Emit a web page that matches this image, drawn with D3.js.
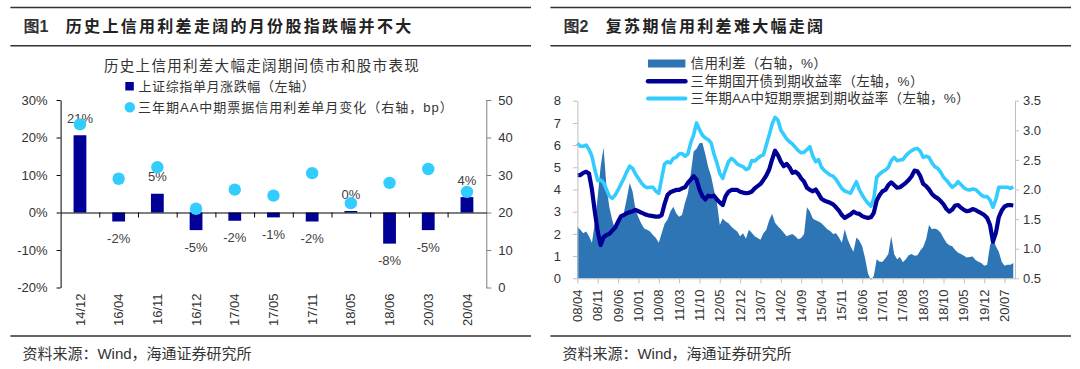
<!DOCTYPE html>
<html><head><meta charset="utf-8">
<script src="https://cdn.jsdelivr.net/npm/d3@7"></script>
<style>
body{margin:0;background:#fff;}
svg text{font-family:"Liberation Sans",Arial,"Noto Sans CJK SC",sans-serif;fill:#333;}
</style></head><body>
<svg id="c" width="1080" height="369"></svg>
<script>
// ---------- Figure 1 data ----------
const barCats = ["14/12","16/04","16/11","16/12","17/04","17/05","17/11","18/05","18/06","20/03","20/04"];
const indexChange = [20.6,-2.4,5.0,-4.7,-2.2,-1.3,-2.4,0.4,-8.3,-4.7,4.1];      // 上证综指单月涨跌幅 %
const spreadChange = [43.5,29.0,32.1,21.0,26.1,24.5,30.5,22.5,27.9,31.6,25.5]; // 信用利差单月变化 bp
const leftTicks1 = [-20,-10,0,10,20,30];
const rightTicks1 = [0,10,20,30,40,50];

// ---------- Figure 2 data (monthly, from 2008-04) ----------
const startYear = 2008, startMonth = 4;
const aaYield = [
6.08,5.95,5.95,6.0,5.8,5.5,4.9,4.4,4.43,4.3,
4.0,3.7,3.6,3.75,3.98,4.25,4.5,4.8,5.05,4.95,
4.7,4.5,4.3,4.15,4.08,4.1,4.1,3.92,3.83,4.5,
5.15,5.25,5.2,5.4,5.45,5.6,5.62,5.5,5.6,6.1,
6.46,7.0,6.7,6.45,6.32,6.25,6.1,5.6,5.2,4.73,
4.5,4.9,5.25,5.4,5.3,5.15,5.08,5.03,4.9,4.95,
5.3,5.28,5.4,5.5,5.56,6.0,6.45,6.95,7.25,7.13,
6.68,6.48,6.28,6.15,6.05,5.9,5.75,5.65,5.68,5.8,
5.93,5.5,5.25,5.35,5.0,4.85,4.75,4.65,4.6,4.45,
4.25,4.05,3.93,3.88,3.83,4.1,4.35,4.0,3.75,3.55,
3.38,3.25,3.6,4.55,4.7,4.8,4.88,5.0,5.3,5.45,
5.3,5.33,5.35,5.52,5.65,5.75,5.82,5.85,5.72,5.45,
5.5,5.45,5.2,5.03,4.95,4.78,4.55,4.42,4.25,4.1,
4.2,4.35,4.22,4.08,4.0,3.98,4.02,4.0,3.88,3.75,
3.68,3.68,3.52,3.2,3.55,4.1,4.1,4.1,4.1,4.05,
4.12];
const cdbYield = [
4.65,4.65,4.75,4.8,4.72,4.0,3.0,2.1,1.5,1.85,
1.95,2.0,2.15,2.28,2.55,2.8,2.85,2.93,2.98,3.02,
3.08,3.02,2.96,2.9,2.85,2.82,2.8,2.78,2.78,2.85,
3.35,3.75,3.88,3.93,3.98,3.98,4.05,4.1,4.3,4.45,
4.6,4.45,4.0,3.7,3.55,3.72,3.68,3.72,3.55,3.42,
3.3,3.7,3.9,3.98,3.98,3.98,3.9,3.86,3.83,3.85,
3.9,4.05,4.15,4.25,4.43,4.63,4.9,5.35,5.75,5.55,
5.26,5.05,5.15,5.0,4.75,4.8,4.7,4.5,4.35,4.08,
3.98,3.92,4.0,3.8,3.58,3.5,3.45,3.4,3.33,3.2,
3.05,2.85,2.72,2.8,2.88,3.0,2.93,2.9,2.8,2.75,
2.72,2.75,2.95,3.5,3.75,3.92,3.98,4.2,4.32,4.2,
4.08,4.1,4.2,4.3,4.43,4.6,4.85,4.82,4.6,4.25,
4.15,4.0,3.8,3.68,3.6,3.48,3.33,3.12,3.0,3.1,
3.28,3.3,3.18,3.08,3.02,3.05,3.12,3.08,3.0,2.93,
2.85,2.72,2.4,1.65,2.05,2.75,3.05,3.23,3.3,3.3,
3.28];
const creditSpread = [
1.37,1.32,1.26,1.29,1.21,1.10,1.44,1.88,2.39,2.71,
2.05,1.70,1.48,1.32,1.43,1.49,1.61,1.85,2.11,1.96,
1.66,1.53,1.42,1.34,1.32,1.29,1.23,1.18,1.10,1.26,
1.42,1.49,1.63,1.71,1.60,1.54,1.57,1.77,1.93,2.26,
2.64,2.69,2.78,2.79,2.60,2.38,2.23,1.99,1.78,1.40,
1.51,1.46,1.43,1.37,1.33,1.29,1.21,1.26,1.17,1.32,
1.27,1.21,1.18,1.15,1.26,1.32,1.48,1.59,1.44,1.38,
1.33,1.27,1.21,1.23,1.25,1.21,1.16,1.18,1.25,1.70,
1.63,1.51,1.48,1.46,1.43,1.38,1.33,1.30,1.25,1.26,
1.19,1.10,1.33,1.16,1.04,0.95,1.19,1.14,1.04,0.84,
0.58,0.47,0.54,0.82,0.78,0.78,0.84,0.91,1.21,0.91,
0.82,0.86,0.77,0.82,0.89,0.91,0.88,0.89,0.97,1.03,
1.16,1.40,1.33,1.34,1.32,1.27,1.18,1.10,1.06,1.04,
0.98,0.93,0.91,0.88,0.85,0.86,0.87,0.81,0.78,0.76,
0.71,0.73,1.06,1.19,1.04,0.95,0.78,0.71,0.73,0.73,
0.76];
const dateTicks = ["08/04","08/11","09/06","10/01","10/08","11/03","11/10","12/05","12/12","13/07","14/02","14/09","15/04","15/11","16/06","17/01","17/08","18/03","18/10","19/05","19/12","20/07"];
const leftTicks2 = [0,1,2,3,4,5,6,7,8];
const rightTicks2 = [0.5,1.0,1.5,2.0,2.5,3.0,3.5];

const months = aaYield.map((_, i) => {
  const t = (startMonth - 1) + i;
  const y = startYear + Math.floor(t / 12), m = t % 12 + 1;
  return String(y).slice(2) + "/" + String(m).padStart(2, "0");
});

const NAVY = "#000096", LIGHT = "#33CCFF", AREA = "#2E75B6", GRID = "#BFBFBF";
const svg = d3.select("#c");

// ---------- header / footer ----------
function frame(x0, x1, tag, title, tx) {
  svg.append("line").attr("x1", x0).attr("x2", x1).attr("y1", 7.6).attr("y2", 7.6).attr("stroke", "#333").attr("stroke-width", 1.5);
  svg.append("line").attr("x1", x0).attr("x2", x1).attr("y1", 45.7).attr("y2", 45.7).attr("stroke", "#333").attr("stroke-width", 1.5);
  svg.append("line").attr("x1", x0).attr("x2", x1).attr("y1", 336).attr("y2", 336).attr("stroke", "#333").attr("stroke-width", 1.5);
  svg.append("text").attr("x", x0 + 13).attr("y", 26).attr("dy", "0.35em").attr("font-size", 16).attr("font-weight", "bold").attr("fill", "#222").text(tag);
  svg.append("text").attr("x", tx).attr("y", 26).attr("dy", "0.35em").attr("font-size", 16).attr("font-weight", "bold").attr("letter-spacing", 2.3).style("fill", "#222").text(title);
  svg.append("text").attr("x", x0 + 12).attr("y", 353.3).attr("dy", "0.35em").attr("font-size", 15).text("资料来源：Wind，海通证券研究所");
}
frame(10.4, 531, "图1", "历史上信用利差走阔的月份股指跌幅并不大", 65.8);
frame(550.4, 1071, "图2", "复苏期信用利差难大幅走阔", 605.8);

// ---------- Figure 1 ----------
const xL = d3.scaleBand().domain(barCats).range([60.6, 486.3]);
const yL = d3.scaleLinear().domain([-20, 30]).range([287.5, 100]);
const yR = d3.scaleLinear().domain([0, 50]).range([287.5, 100]);
const g1 = svg.append("g");

g1.append("text").attr("x", 262).attr("y", 65.6).attr("dy", "0.35em").attr("text-anchor", "middle")
  .attr("font-size", 14.5).attr("letter-spacing", 1.3).text("历史上信用利差大幅走阔期间债市和股市表现");

// legend
g1.append("rect").attr("x", 125.3).attr("y", 82).attr("width", 8.5).attr("height", 8.5).attr("fill", NAVY);
g1.append("text").attr("x", 138.5).attr("y", 86.3).attr("dy", "0.35em").attr("font-size", 13).attr("letter-spacing", 0.6).text("上证综指单月涨跌幅（左轴）");
g1.append("circle").attr("cx", 129.8).attr("cy", 107.2).attr("r", 5.2).attr("fill", LIGHT);
g1.append("text").attr("x", 138).attr("y", 107.2).attr("dy", "0.35em").attr("font-size", 13).attr("letter-spacing", 1.0).text("三年期AA中期票据信用利差单月变化（右轴，bp）");

// axes
const axL = g1.append("g").attr("transform", "translate(60.6,0)")
  .call(d3.axisLeft(yL).tickValues(leftTicks1).tickFormat(d => d + "%").tickSize(4).tickSizeOuter(0).tickPadding(9));
axL.selectAll("path,line").attr("stroke", "#000");
axL.selectAll("text").attr("font-size", 13).style("font-family", "'Liberation Sans',Arial").style("fill", "#333");
const axR = g1.append("g").attr("transform", "translate(486.3,0)")
  .call(d3.axisRight(yR).tickValues(rightTicks1).tickSize(5).tickSizeOuter(0).tickPadding(7));
axR.selectAll("path,line").attr("stroke", "#808080");
axR.selectAll("text").attr("font-size", 13).style("font-family", "'Liberation Sans',Arial").style("fill", "#333");

// bars
const bw = 12.8;
g1.selectAll("rect.bar").data(barCats).join("rect").attr("class", "bar")
  .attr("x", d => xL(d) + (xL.bandwidth() - bw) / 2)
  .attr("y", (d, i) => yL(Math.max(0, indexChange[i])))
  .attr("width", bw)
  .attr("height", (d, i) => Math.abs(yL(indexChange[i]) - yL(0)))
  .attr("fill", NAVY);

// zero axis with category ticks
const x0 = g1.append("g").attr("transform", `translate(0,${yL(0)})`)
  .call(d3.axisBottom(d3.scaleLinear().domain([0, barCats.length]).range([60.6, 486.3]))
    .tickValues(d3.range(1, barCats.length)).tickSize(5).tickSizeOuter(0).tickFormat(""));
x0.selectAll("path,line").attr("stroke", "#000");

// bar labels
g1.selectAll("text.blab").data(barCats).join("text").attr("class", "blab")
  .attr("x", d => xL(d) + xL.bandwidth() / 2)
  .attr("y", (d, i) => indexChange[i] >= 0 ? yL(indexChange[i]) - 17 : yL(indexChange[i]) + 17)
  .attr("dy", "0.35em").attr("text-anchor", "middle").attr("font-size", 13).style("fill", "#404040")
  .text((d, i) => Math.round(indexChange[i]) + "%");

// dots
g1.selectAll("circle.dot").data(barCats).join("circle").attr("class", "dot")
  .attr("cx", d => xL(d) + xL.bandwidth() / 2)
  .attr("cy", (d, i) => yR(spreadChange[i]))
  .attr("r", 6.2).attr("fill", LIGHT);

// category labels
g1.selectAll("text.cat").data(barCats).join("text").attr("class", "cat")
  .attr("transform", d => `translate(${xL(d) + xL.bandwidth() / 2},293.5) rotate(-90)`)
  .attr("dy", "0.35em").attr("text-anchor", "end").attr("font-size", 13).text(d => d);

// ---------- Figure 2 ----------
const g2 = svg.append("g");
const xT = d3.scaleLinear().domain([0, 150]).range([577.4, 577.4 + 150 * 2.906]);
const yA = d3.scaleLinear().domain([0, 8]).range([278.3, 100.7]);
const yB = d3.scaleLinear().domain([0.5, 3.5]).range([278.3, 100.7]);

g2.append("path").datum(creditSpread)
  .attr("d", d3.area().x((d, i) => xT(i)).y0(yB(0.5)).y1(d => yB(d)))
  .attr("fill", AREA);
g2.append("path").datum(aaYield)
  .attr("d", d3.line().x((d, i) => xT(i)).y(d => yA(d)))
  .attr("fill", "none").attr("stroke", LIGHT).attr("stroke-width", 3.6).attr("stroke-linejoin", "round");
g2.append("path").datum(cdbYield)
  .attr("d", d3.line().x((d, i) => xT(i)).y(d => yA(d)))
  .attr("fill", "none").attr("stroke", NAVY).attr("stroke-width", 4.2).attr("stroke-linejoin", "round");

const a2L = g2.append("g").attr("transform", "translate(577.4,0)")
  .call(d3.axisLeft(yA).tickValues(leftTicks2).tickSize(4.5).tickSizeOuter(0).tickPadding(12));
const a2R = g2.append("g").attr("transform", "translate(1015,0)")
  .call(d3.axisRight(yB).tickValues(rightTicks2).tickFormat(d3.format(".1f")).tickSize(4).tickSizeOuter(0).tickPadding(4));
const tickIdx = dateTicks.map(t => months.indexOf(t));
const a2B = g2.append("g").attr("transform", `translate(0,${yA(0)})`)
  .call(d3.axisBottom(d3.scaleLinear().domain([0, 150.6]).range([577.4, 1015])).tickValues(tickIdx).tickSize(5).tickSizeOuter(0).tickFormat(""));
[a2L, a2R, a2B].forEach(a => {
  a.selectAll("path,line").attr("stroke", GRID);
  a.selectAll("text").attr("font-size", 13).style("font-family", "'Liberation Sans',Arial").style("fill", "#333");
});
g2.selectAll("text.dlab").data(tickIdx).join("text").attr("class", "dlab")
  .attr("transform", d => `translate(${xT(d)},289.5) rotate(-90)`)
  .attr("dy", "0.35em").attr("text-anchor", "end").attr("font-size", 13).text(d => months[d]);

// legend
g2.append("rect").attr("x", 648).attr("y", 59.5).attr("width", 37.4).attr("height", 8).attr("fill", AREA);
g2.append("line").attr("x1", 648).attr("x2", 685.4).attr("y1", 81.2).attr("y2", 81.2).attr("stroke", NAVY).attr("stroke-width", 4.5).attr("stroke-linecap", "round");
g2.append("line").attr("x1", 648).attr("x2", 685.4).attr("y1", 98.5).attr("y2", 98.5).attr("stroke", LIGHT).attr("stroke-width", 4).attr("stroke-linecap", "round");
const leg2 = ["信用利差（右轴，%）", "三年期国开债到期收益率（左轴，%）", "三年期AA中短期票据到期收益率（左轴，%）"];
const legY = [63.2, 81.2, 98.5];
g2.selectAll("text.leg2").data(leg2).join("text").attr("class", "leg2")
  .attr("x", 690.6).attr("y", (d, i) => legY[i]).attr("dy", "0.35em").attr("font-size", 13.5).attr("letter-spacing", 0.3).text(d => d);
</script>
</body></html>
